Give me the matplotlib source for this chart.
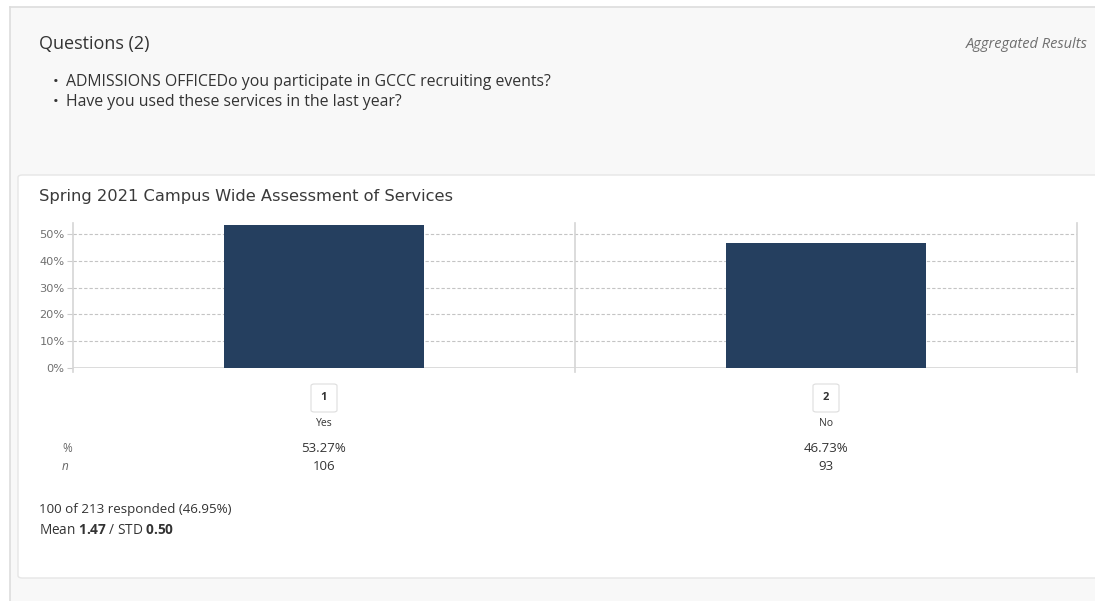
import matplotlib
matplotlib.use("Agg")
import matplotlib.pyplot as plt
from matplotlib.patches import Rectangle, FancyBboxPatch
from matplotlib.lines import Line2D

# Survey data
codes = ["1", "2"]
answers = ["Yes", "No"]
percents = [53.27, 46.73]
counts = [106, 93]
y_ticks = [0, 10, 20, 30, 40, 50]
questions = [
    "ADMISSIONS OFFICEDo you participate in GCCC recruiting events?",
    "Have you used these services in the last year?",
]
chart_title = "Spring 2021 Campus Wide Assessment of Services"
responded, total = 100, 213
mean_val, std_val = 1.47, 0.50

plt.rcParams["mathtext.fontset"] = "custom"
plt.rcParams["mathtext.rm"] = "Open Sans"
plt.rcParams["mathtext.bf"] = "Open Sans:bold"

W, H = 1095, 601
fig = plt.figure(figsize=(W / 100, H / 100), dpi=100)
fig.patch.set_facecolor("white")

def fx(px):
    return px / W

def fy(py):
    return 1 - py / H

UI = ["Open Sans", "DejaVu Sans"]
TXT = "#333333"
LEFT = 39

# Panel background and card
fig.patches.append(Rectangle((fx(10), 0), 1 - fx(10), fy(7), transform=fig.transFigure,
                             facecolor="#f8f8f8", edgecolor="none", zorder=0))
fig.lines.append(Line2D([fx(10), 1], [fy(7), fy(7)], transform=fig.transFigure,
                        color="#dddddd", lw=1.2, zorder=1))
fig.lines.append(Line2D([fx(10), fx(10)], [0, fy(7)], transform=fig.transFigure,
                        color="#dddddd", lw=1.2, zorder=1))
fig.patches.append(FancyBboxPatch((fx(18), fy(578)), 1 - fx(18) + 0.01, fy(175) - fy(578),
                                  boxstyle="round,pad=0,rounding_size=0.004",
                                  transform=fig.transFigure, facecolor="white",
                                  edgecolor="#e6e6e6", lw=1, zorder=1))

# Header texts
fig.text(fx(LEFT), fy(44), "Questions (2)", fontsize=13, family=UI, color=TXT, va="center")
fig.text(fx(1088), fy(44), "Aggregated Results", fontsize=10.5, family=UI, color="#6f6f6f",
         style="italic", ha="right", va="center")
for i, q in enumerate(questions):
    yy = fy(82 + 20 * i)
    fig.text(fx(53), yy, "\u2022", fontsize=11, family=UI, color=TXT, va="center")
    fig.text(fx(66), yy, q, fontsize=11.4, family=UI, color=TXT, va="center")

fig.text(fx(LEFT), fy(197), chart_title, fontsize=11.7, family="DejaVu Sans", color="#3a3a3a",
         va="center")

# Chart axes
px_per_pct = (368 - 234) / 50
ymax = (368 - 223) / px_per_pct
ax = fig.add_axes([fx(73), fy(368), fx(1077) - fx(73), (368 - 223) / H])
ax.set_zorder(5)
ax.set_facecolor("none")
xs = list(range(len(codes)))
ax.bar(xs, percents, width=0.4, color="#253f5f", zorder=3)
ax.set_xlim(-0.5, len(codes) - 0.5)
ax.set_ylim(0, ymax)
ax.set_yticks(y_ticks)
ax.set_yticklabels([f"{t}%" for t in y_ticks], fontsize=8.2, color="#707070",
                   family="DejaVu Sans")
ax.tick_params(axis="y", length=4, color="#cccccc", pad=2)
ax.set_xticks([])
for t in y_ticks[1:]:
    ax.axhline(t, color="#c4c4c4", lw=0.8, ls=(0, (3, 1.8)), zorder=1)
for s in ax.spines.values():
    s.set_visible(False)
ax.axhline(0, color="#d5d5d5", lw=1.2, zorder=2)
for b in [x + 0.5 for x in [-1] + xs]:
    ax.plot([b, b], [-1.5, ymax], color="#d5d5d5", lw=1.2, clip_on=False, zorder=2)

# Category labels and statistics below the chart
data_to_fig = lambda x: (ax.transData + fig.transFigure.inverted()).transform((x, 0))[0]
fig.text(fx(62), fy(448), "%", fontsize=8.5, family=UI, color="#666666", va="center")
fig.text(fx(62), fy(467), "n", fontsize=8.5, family=UI, color="#666666", va="center",
         style="italic")
for x, code, ans, p, n in zip(xs, codes, answers, percents, counts):
    cx = data_to_fig(x)
    fig.patches.append(FancyBboxPatch((cx - fx(13), fy(412)), fx(26), 28 / H,
                                      boxstyle="round,pad=0,rounding_size=0.003",
                                      transform=fig.transFigure, facecolor="white",
                                      edgecolor="#dddddd", lw=0.8, zorder=2))
    fig.text(cx, fy(398), code, fontsize=8, family=UI, color=TXT, ha="center",
             va="center", weight="bold", zorder=3)
    fig.text(cx, fy(423), ans, fontsize=7.5, family=UI, color=TXT, ha="center", va="center")
    fig.text(cx, fy(448), f"{p:.2f}%", fontsize=9.5, family=UI, color=TXT, ha="center",
             va="center")
    fig.text(cx, fy(467), f"{n}", fontsize=9.5, family=UI, color=TXT, ha="center",
             va="center")

fig.text(fx(LEFT), fy(510), f"{responded} of {total} responded ({responded / total * 100:.2f}%)",
         fontsize=9.6, family=UI, color=TXT, va="center")
fig.text(fx(LEFT), fy(530),
         r"Mean $\bf{" + f"{mean_val:.2f}" + r"}$ / STD $\bf{" + f"{std_val:.2f}" + r"}$",
         fontsize=9.8, family=UI, color=TXT, va="center")

fig.savefig("out.png", dpi=100, facecolor=fig.get_facecolor())
